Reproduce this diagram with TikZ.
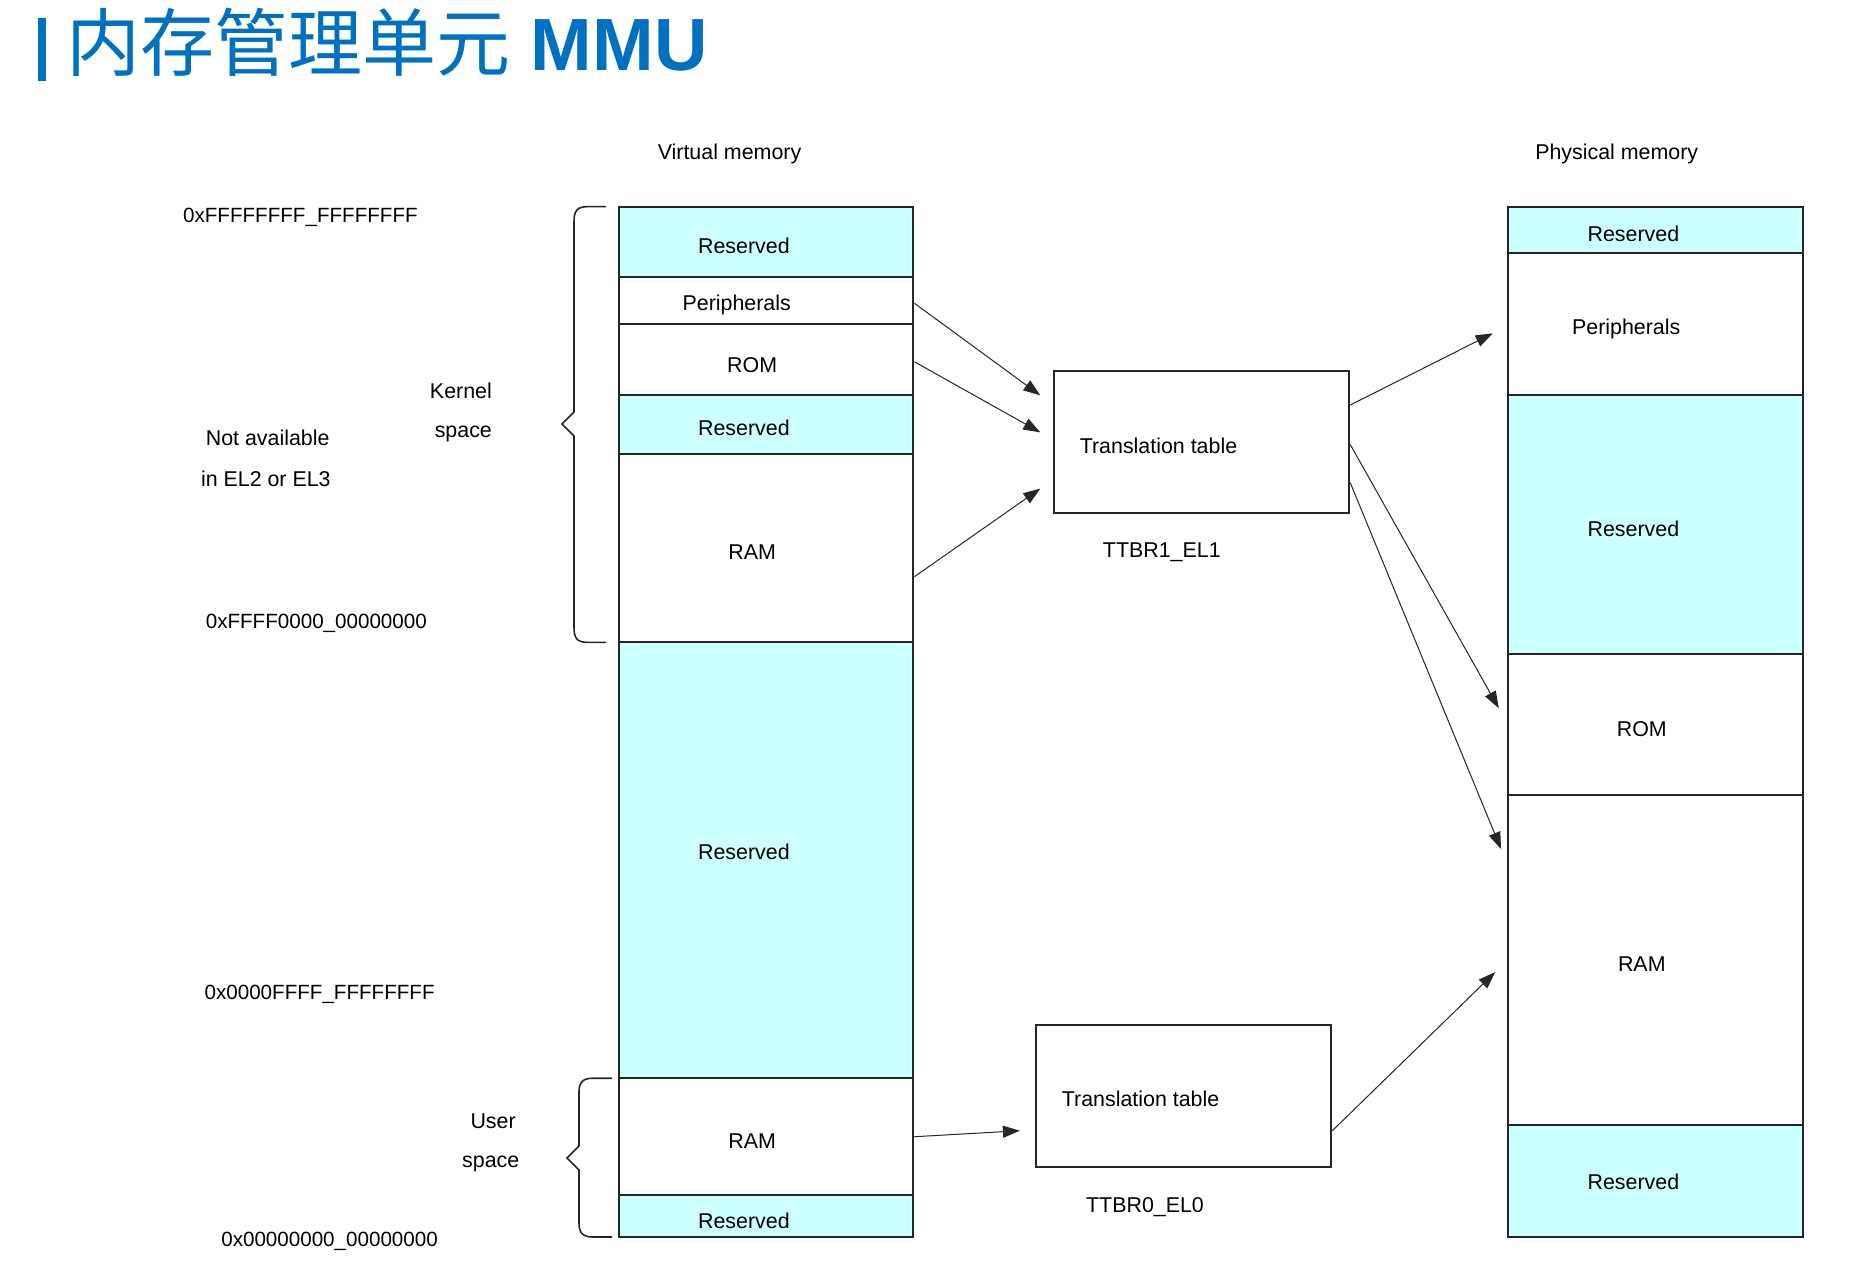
\documentclass[tikz,border=0pt]{standalone}
\usepackage{fontspec}
\setmainfont{Liberation Sans}
\newfontfamily\cjk{Noto Sans CJK SC}
\usetikzlibrary{arrows.meta,calc}
\definecolor{resv}{RGB}{204,255,255}
\definecolor{titleblue}{RGB}{0,112,192}
\begin{document}
\begin{tikzpicture}[x=0.5pt,y=-0.5pt,
  mem/.style={draw=black!85, line width=1pt, minimum width=147.45pt, inner sep=0pt},
  memc/.style={mem, fill=resv},
  memw/.style={mem, fill=white},
  txt/.style={inner sep=0pt, yshift=-1pt, font=\fontsize{10.7}{13}\selectfont},
  addr/.style={txt, anchor=west, font=\fontsize{10.3}{13}\selectfont},
  ttbox/.style={draw=black!85, line width=1pt, fill=white, minimum width=147.45pt, minimum height=71pt, inner sep=0pt},
  conn/.style={-{Triangle[length=8.5pt,width=6pt]}, line width=0.5pt, black!85},
  brc/.style={line width=0.8pt, black!85}]
\useasboundingbox (0,0) rectangle (1872,1276);
\fill[white] (0,0) rectangle (1872,1276);

% title
\fill[titleblue] (38,18) rectangle (46,81);
\node[anchor=base west, inner sep=0pt, text=titleblue, font=\fontsize{37}{40}\selectfont] (title) at (66,70) {{\cjk 内存管理单元} \textbf{MMU}};

% column headers
\node[txt] (vmh) at (729.5,151.6) {Virtual memory};
\node[txt] (pmh) at (1616.7,151.6) {Physical memory};

% virtual memory regions
\node[memc, minimum height=35.2pt]  (v1) at (766,241.8) {};
\node[memw, minimum height=23.3pt]  (v2) at (766,300.3) {};
\node[memw, minimum height=35.8pt]  (v3) at (766,359.4) {};
\node[memc, minimum height=29.25pt] (v4) at (766,424.45) {};
\node[memw, minimum height=94.35pt] (v5) at (766,548.05) {};
\node[memc, minimum height=217.9pt] (v6) at (766,860.3) {};
\node[memw, minimum height=58.5pt]  (v7) at (766,1136.7) {};
\node[memc, minimum height=20.9pt]  (v8) at (766,1216.1) {};
\node[txt] (v1t) at (743.9,243.6) {Reserved};
\node[txt] (v2t) at (736.7,303.3) {Peripherals};
\node[txt] (v3t) at (752.2,363) {ROM};
\node[txt] (v4t) at (743.9,426.3) {Reserved};
\node[txt] (v5t) at (752.2,550.4) {RAM};
\node[txt] (v6t) at (743.9,850.1) {Reserved};
\node[txt] (v7t) at (752.2,1139.1) {RAM};
\node[txt] (v8t) at (743.9,1219.1) {Reserved};

% physical memory regions
\node[memc, minimum height=23.25pt]  (p1) at (1655.5,229.85) {};
\node[memw, minimum height=71.05pt]  (p2) at (1655.5,324.15) {};
\node[memc, minimum height=129.55pt] (p3) at (1655.5,524.75) {};
\node[memw, minimum height=70.45pt]  (p4) at (1655.5,724.75) {};
\node[memw, minimum height=164.75pt] (p5) at (1655.5,959.95) {};
\node[memc, minimum height=56.15pt]  (p6) at (1655.5,1180.85) {};
\node[txt] (p1t) at (1633.4,231.6) {Reserved};
\node[txt] (p2t) at (1626.2,327.2) {Peripherals};
\node[txt] (p3t) at (1633.4,526.6) {Reserved};
\node[txt] (p4t) at (1641.8,727.1) {ROM};
\node[txt] (p5t) at (1641.8,962.4) {RAM};
\node[txt] (p6t) at (1633.4,1179.7) {Reserved};

% translation tables
\node[ttbox] (tt1) at (1201.75,442.35) {};
\node[txt, anchor=west] (tt1t) at (1079.4,444.2) {Translation table};
\node[txt] (tt1l) at (1161.8,550.4) {TTBR1\_EL1};
\node[ttbox] (tt2) at (1183.85,1095.5) {};
\node[txt, anchor=west] (tt2t) at (1061.5,1097.3) {Translation table};
\node[txt] (tt2l) at (1145,1204.7) {TTBR0\_EL0};

% address labels
\node[addr] (a1) at (182.7,215) {0xFFFFFFFF\_FFFFFFFF};
\node[addr] (a2) at (205.4,620.9) {0xFFFF0000\_00000000};
\node[addr] (a3) at (204.2,992.2) {0x0000FFFF\_FFFFFFFF};
\node[addr] (a4) at (220.9,1239.4) {0x00000000\_00000000};
\node[txt, anchor=west] (na1) at (205.4,435.8) {Not available};
\node[txt, anchor=west] (na2) at (200.6,476.4) {in EL2 or EL3};
\node[txt] (ks1) at (460.9,389.2) {Kernel};
\node[txt] (ks2) at (463.3,432) {space};
\node[txt] (us1) at (493.1,1118.8) {User};
\node[txt] (us2) at (490.7,1162) {space};

% braces
\draw[brc] (606,206.6) -- (588,206.6) .. controls (576,206.6) and (574,212) .. (574,222)
  -- (574,412) -- (562,424) -- (574,436) -- (574,627)
  .. controls (574,637) and (576,642.4) .. (588,642.4) -- (606,642.4);
\draw[brc] (612,1078.2) -- (593,1078.2) .. controls (582,1078.2) and (579,1083) .. (579,1092)
  -- (579,1146) -- (567,1158) -- (579,1170) -- (579,1223)
  .. controls (579,1232) and (582,1237) .. (593,1237) -- (612,1237);

% connectors
\draw[conn] ($(v2.east)+(0,3)$) -- ($(tt1.north west)+(-13,25)$);
\draw[conn] ($(v3.east)+(0,2.4)$) -- ($(tt1.north west)+(-13,62)$);
\draw[conn] ($(v5.east)+(0,28.6)$) -- ($(tt1.north west)+(-13,118.2)$);
\draw[conn] ($(tt1.north east)+(0,34.7)$) -- ($(p2.north west)+(-14.3,81.2)$);
\draw[conn] ($(tt1.north east)+(0,74.1)$) -- ($(p4.north west)+(-8.3,54.9)$);
\draw[conn] ($(tt1.north east)+(0,112.3)$) -- ($(p5.north west)+(-6,54.9)$);
\draw[conn] (v7.east) -- ($(tt2.west)+(-15.5,35.2)$);
\draw[conn] ($(tt2.east)+(0,35.2)$) -- ($(p5.north west)+(-11.9,177.9)$);
\end{tikzpicture}
\end{document}
